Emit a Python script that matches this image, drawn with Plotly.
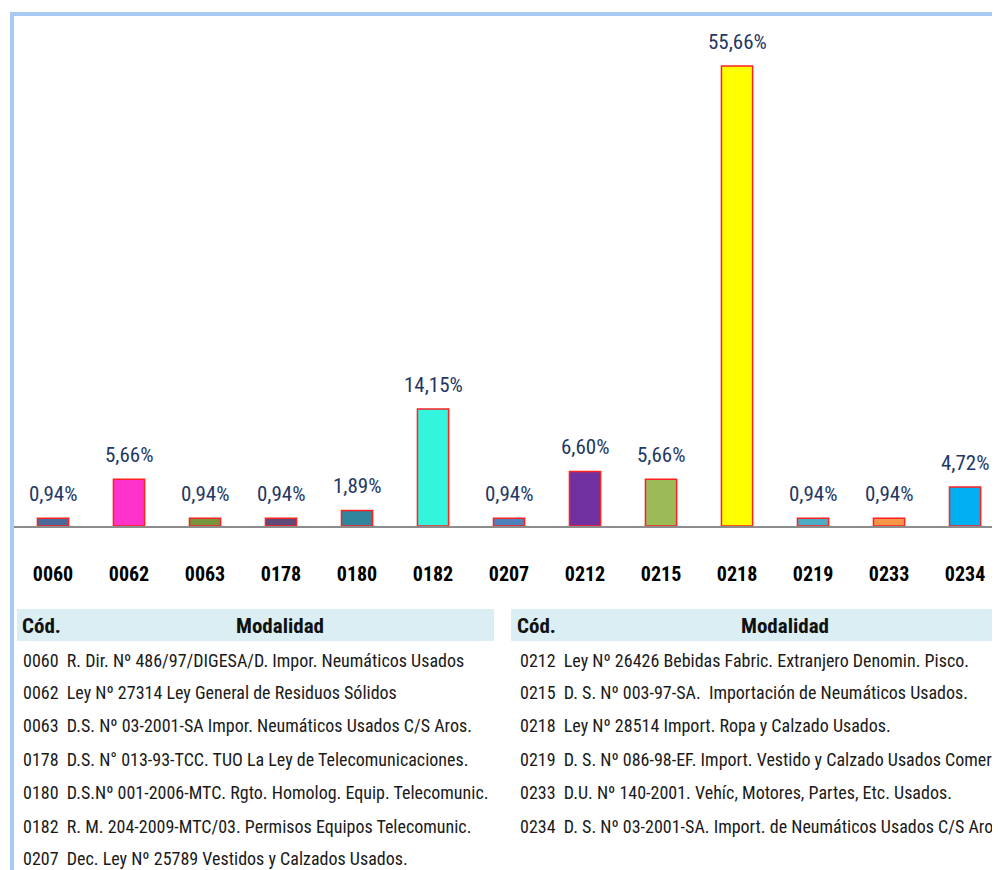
import plotly.graph_objects as go

codes = ["0060", "0062", "0063", "0178", "0180", "0182", "0207", "0212", "0215", "0218", "0219", "0233", "0234"]
values = [0.94, 5.66, 0.94, 0.94, 1.89, 14.15, 0.94, 6.60, 5.66, 55.66, 0.94, 0.94, 4.72]
labels = ["0,94%", "5,66%", "0,94%", "0,94%", "1,89%", "14,15%", "0,94%", "6,60%", "5,66%", "55,66%", "0,94%", "0,94%", "4,72%"]
colors = ["#4A6A9C", "#FF33CC", "#77933C", "#604A7B", "#31859C", "#33F5DD", "#4F81BD",
          "#7030A0", "#9BBB59", "#FFFF00", "#4BACC6", "#F79646", "#00B0F0"]

left_codes = ["0060", "0062", "0063", "0178", "0180", "0182", "0207"]
left_desc = [
    "R. Dir. Nº 486/97/DIGESA/D. Impor. Neumáticos Usados",
    "Ley Nº 27314 Ley General de Residuos Sólidos",
    "D.S. Nº 03-2001-SA Impor. Neumáticos Usados C/S Aros.",
    "D.S. N° 013-93-TCC. TUO La Ley de Telecomunicaciones.",
    "D.S.Nº 001-2006-MTC. Rgto. Homolog. Equip. Telecomunic.",
    "R. M. 204-2009-MTC/03. Permisos Equipos Telecomunic.",
    "Dec. Ley Nº 25789 Vestidos y Calzados Usados.",
]
right_codes = ["0212", "0215", "0218", "0219", "0233", "0234"]
right_desc = [
    "Ley Nº 26426 Bebidas Fabric. Extranjero Denomin. Pisco.",
    "D. S. Nº 003-97-SA.  Importación de Neumáticos Usados.",
    "Ley Nº 28514 Import. Ropa y Calzado Usados.",
    "D. S. Nº 086-98-EF. Import. Vestido y Calzado Usados Comercio",
    "D.U. Nº 140-2001. Vehíc, Motores, Partes, Etc. Usados.",
    "D. S. Nº 03-2001-SA. Import. de Neumáticos Usados C/S Aros.",
]

FONT = "Roboto Condensed, Liberation Sans Narrow, Arial Narrow, Roboto, sans-serif"

# page body has an 8px margin; design in reference pixels and offset
O = 8
W, H = 1000 - O, 870 - O
L, R, T, B = 15, 1000, 16, 526


def px(x):
    return (x - L) / (R - L)


def py(y):
    return (B - y) / (B - T)


fig = go.Figure()
fig.add_trace(go.Bar(
    x=list(range(len(codes))), y=values,
    marker=dict(color=colors, line=dict(color="#FF2020", width=1.5)),
    hoverinfo="skip",
))

annotations = []
for i, (v, t) in enumerate(zip(values, labels)):
    annotations.append(dict(x=i, y=v, xref="x", yref="y", text=t, showarrow=False,
                            yanchor="bottom", yshift=10,
                            font=dict(family=FONT, size=21, color="#1F3864")))

shapes = []
# frame
shapes.append(dict(type="line", xref="paper", yref="paper", x0=px(12), x1=px(1000), y0=py(14), y1=py(14),
                   line=dict(color="#A9CBF3", width=4)))
shapes.append(dict(type="line", xref="paper", yref="paper", x0=px(12), x1=px(12), y0=py(12), y1=py(880),
                   line=dict(color="#A9CBF3", width=4)))
# baseline
shapes.append(dict(type="line", xref="paper", yref="paper", x0=px(14), x1=px(1000), y0=py(527), y1=py(527),
                   line=dict(color="#8C8C8C", width=2), layer="above"))

# table headers
for (x0, x1, xc, xm) in [(17, 494, 20, 280), (511, 1000, 515, 785)]:
    shapes.append(dict(type="rect", xref="paper", yref="paper", x0=px(x0), x1=px(x1), y0=py(641), y1=py(609),
                       fillcolor="#DAEEF3", line=dict(width=0), layer="below"))
    annotations.append(dict(x=px(xc), y=py(626), xref="paper", yref="paper", text="<b>Cód.</b>", showarrow=False,
                            xanchor="left", yanchor="middle", font=dict(family=FONT, size=21, color="#111111")))
    annotations.append(dict(x=px(xm), y=py(626), xref="paper", yref="paper", text="<b>Modalidad</b>", showarrow=False,
                            xanchor="center", yanchor="middle", font=dict(family=FONT, size=21, color="#111111")))

row_y = [660, 692, 725, 759, 792, 826, 858]
for i, (c, d) in enumerate(zip(left_codes, left_desc)):
    annotations.append(dict(x=px(21), y=py(row_y[i]), xref="paper", yref="paper", text=c + "  " + d,
                            showarrow=False, xanchor="left", yanchor="middle",
                            font=dict(family=FONT, size=18, color="#1A1A1A")))
for i, (c, d) in enumerate(zip(right_codes, right_desc)):
    annotations.append(dict(x=px(518), y=py(row_y[i]), xref="paper", yref="paper", text=c + "  " + d,
                            showarrow=False, xanchor="left", yanchor="middle",
                            font=dict(family=FONT, size=18, color="#1A1A1A")))

fig.update_layout(
    width=W, height=H,
    margin=dict(l=L - O, r=1000 - R, t=T - O, b=870 - B, pad=0),
    paper_bgcolor="white", plot_bgcolor="white",
    bargap=0.59,
    showlegend=False,
    annotations=annotations,
    shapes=shapes,
    xaxis=dict(range=[-0.5, 12.46], showgrid=False, zeroline=False, showline=False,
               tickmode="array", tickvals=list(range(len(codes))), ticktext=codes,
               ticks="", ticklabelstandoff=34,
               tickfont=dict(family=FONT, size=20, color="#000000", weight="bold")),
    yaxis=dict(range=[0, (B - T) / ((B - 66) / 55.66)], visible=False, showgrid=False, zeroline=False),
)

fig.write_html("out.html")
